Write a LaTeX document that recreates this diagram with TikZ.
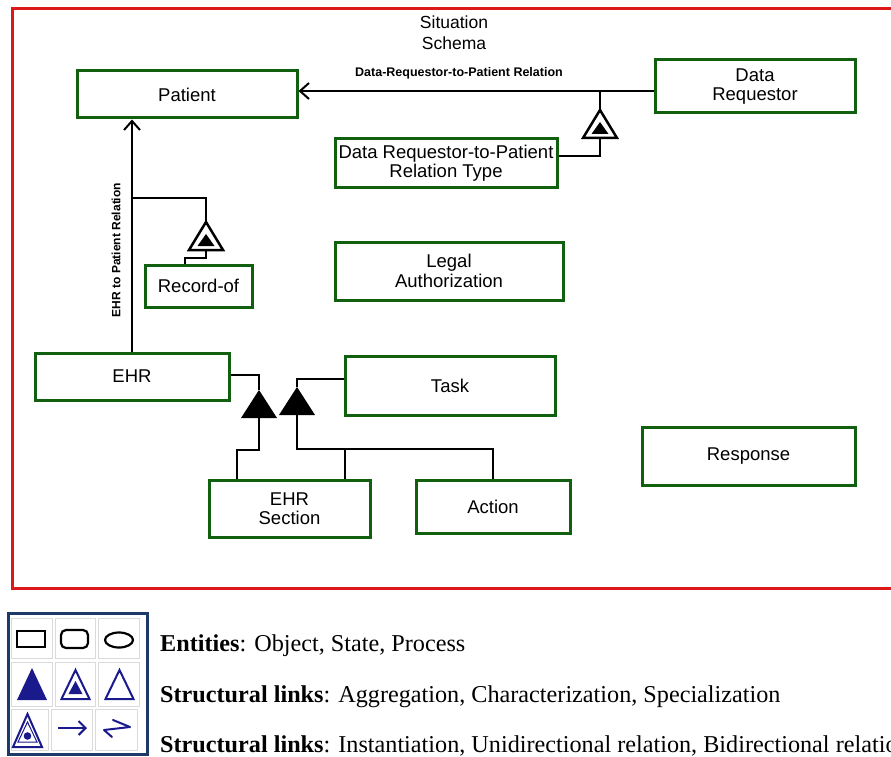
\documentclass[tikz,border=0pt]{standalone}
\usepackage{fontspec}
\setmainfont{Liberation Serif}
\setsansfont{Liberation Sans}
\usetikzlibrary{arrows.meta}
\definecolor{objgreen}{RGB}{16,96,16}
\definecolor{framered}{RGB}{221,24,24}
\definecolor{linknavy}{RGB}{26,26,140}
\definecolor{legendframe}{RGB}{30,58,104}
\definecolor{cellgray}{RGB}{218,218,218}
\begin{document}
\begin{tikzpicture}[x=1pt,y=-1pt,
  obj/.style={draw=objgreen, line width=3pt, fill=white, inner sep=0pt, align=center,
    font=\sffamily\fontsize{18.5}{19.5}\selectfont},
  link/.style={draw=black, line width=2pt},
  relarrow/.style={link, -{Straight Barb[length=9pt,width=16pt,line width=2pt]}},
  aggtri/.pic={\fill (0,0) -- (18,28) -- (-18,28) -- cycle;},
  chartri/.pic={\draw[line width=2.5pt, fill=white] (0,0) -- (17,28) -- (-17,28) -- cycle;
                \fill (0,12) -- (8.5,24) -- (-8.5,24) -- cycle;},
  cell/.style={draw=cellgray, line width=1pt},
  legtext/.style={anchor=base west, inner sep=0pt, font=\fontsize{24.2}{27}\selectfont}
]
\useasboundingbox (0,0) rectangle (891,757);
\clip (0,0) rectangle (891,757);
\fill[white] (0,0) rectangle (891,757);

% schema frame, open to the right
\draw[framered, line width=3pt] (900,9) -- (12,9) -- (12,588) -- (900,588);

\node[font=\sffamily\fontsize{17.5}{21}\selectfont, align=center] (title) at (454,33) {Situation\\Schema};

% objects
\node[obj, minimum width=220pt, minimum height=47pt] (patient)   at (187,94.5)  {Patient};
\node[obj, minimum width=200pt, minimum height=53pt] (requestor) at (755,86.5)  {Data\\Requestor};
\node[obj, minimum width=222pt, minimum height=48pt] (reltype)   at (446,163)   {Data Requestor-to-Patient\\Relation Type};
\node[obj, minimum width=228pt, minimum height=58pt] (legal)     at (449,271)   {Legal\\Authorization};
\node[obj, minimum width=107pt, minimum height=42pt] (recordof)  at (198.5,286) {Record-of};
\node[obj, minimum width=194pt, minimum height=47pt] (ehr)       at (132,376.5) {EHR};
\node[obj, minimum width=210pt, minimum height=59pt] (task)      at (450,385.5) {Task};
\node[obj, minimum width=213pt, minimum height=58pt] (response)  at (748.5,456) {Response};
\node[obj, minimum width=161pt, minimum height=57pt] (ehrsec)    at (289.5,508.5) {EHR\\Section};
\node[obj, minimum width=154pt, minimum height=53pt] (action)    at (493,506.5) {Action};

% Data Requestor -> Patient relation with its characterization
\coordinate (c1) at (600,91);
\coordinate (t1top) at (600,110);
\coordinate (t1base) at (600,138);
\draw[relarrow] (requestor.west |- c1) -- (patient.east |- c1);
\node[font=\sffamily\bfseries\fontsize{12.5}{14}\selectfont] (rellabel) at (459,73) {Data-Requestor-to-Patient Relation};
\draw[link] (c1) -- (t1top);
\draw[link] (t1base) |- (reltype.east |- 0,156);
\pic at (t1top) {chartri};

% EHR -> Patient relation with Record-of
\draw[relarrow] (ehr.north) -- (ehr.north |- patient.south);
\node[font=\sffamily\bfseries\fontsize{12}{14}\selectfont, rotate=90] (ehrlabel) at (116,250) {EHR to Patient Relation};
\coordinate (j2) at (132,198);
\coordinate (t2top) at (206,222);
\coordinate (t2base) at (206,250);
\draw[link] (j2) -| (t2top);
\draw[link] (t2base) -- (206,258) -| (185,0 |- recordof.north);
\pic at (t2top) {chartri};

% EHR aggregation
\coordinate (t3top) at (259,390);
\coordinate (t3base) at (259,418);
\draw[link] (ehr.east |- 0,375) -| (t3top);
\draw[link] (t3base) -- (259,450) -| (237,0 |- ehrsec.north);
\pic at (t3top) {aggtri};

% Task aggregation
\coordinate (t4top) at (297,387);
\coordinate (t4base) at (297,415);
\coordinate (bus) at (297,449);
\draw[link] (task.west |- 0,379) -| (t4top);
\draw[link] (t4base) -- (bus) -| (action.north);
\draw[link] (345,449) -- (345,0 |- ehrsec.north);
\pic at (t4top) {aggtri};

% legend
\foreach \x/\w in {11/41,55/40,98/41}{
  \draw[cell] (\x,618) rectangle ++(\w,40);
  \draw[cell] (\x,662) rectangle ++(\w,44);
}
\foreach \x/\w in {11/37,51/41,95/42}{
  \draw[cell] (\x,709) rectangle ++(\w,41);
}
\draw[legendframe, line width=3pt] (8,613) rectangle (147,754);

\draw[line width=2.2pt] (17,631) rectangle (45,647);
\draw[line width=2.2pt, rounded corners=5pt] (61,630) rectangle (88,648);
\draw[line width=2.2pt] (119,640) ellipse [x radius=14, y radius=7.5];

\fill[linknavy] (32,668) -- (47,700) -- (17,700) -- cycle;
\draw[linknavy, line width=2pt] (75.5,670) -- (89.5,699) -- (61.5,699) -- cycle;
\fill[linknavy] (75.5,681) -- (82.5,694) -- (68.5,694) -- cycle;
\draw[linknavy, line width=2pt] (119.5,670) -- (133.5,699) -- (105.5,699) -- cycle;

\draw[linknavy, line width=2pt] (27.5,714) -- (42,747) -- (13,747) -- cycle;
\draw[linknavy, line width=1pt] (27.5,722) -- (37,742) -- (18,742) -- cycle;
\fill[linknavy] (27.5,736) circle [radius=3.8];
\draw[linknavy, line width=2pt, -{Straight Barb[length=7pt,width=14pt]}] (58,728) -- (87,728);
\draw[linknavy, line width=2pt, line join=round, line cap=round] (113,720) -- (130,727) -- (104,730) -- (112,737);

\node[legtext] (entities) at (160,651) {\textbf{Entities}: Object, State, Process};
\node[legtext] (links1) at (160,702) {\textbf{Structural links}: Aggregation, Characterization, Specialization};
\node[legtext] (links2) at (160,752) {\textbf{Structural links}: Instantiation, Unidirectional relation, Bidirectional relation};
\end{tikzpicture}
\end{document}
